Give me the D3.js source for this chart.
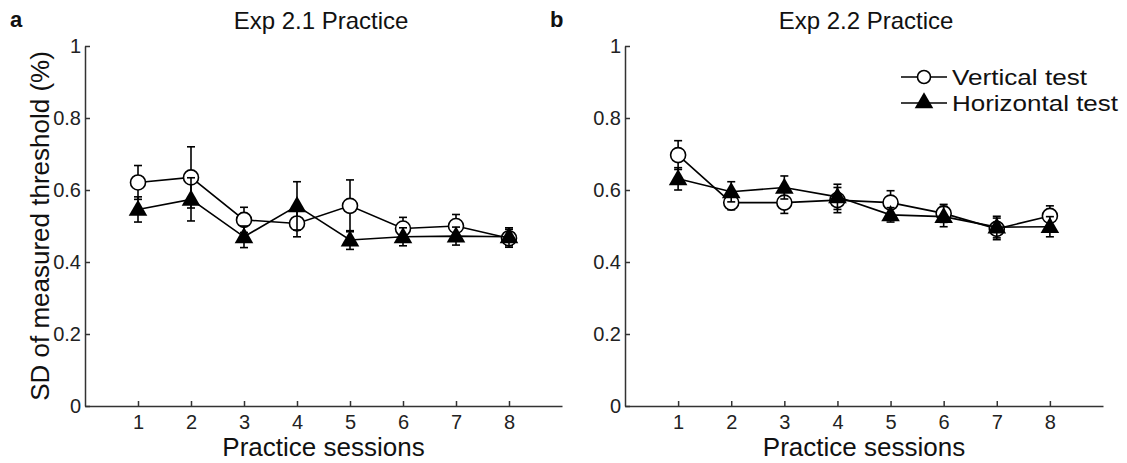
<!DOCTYPE html>
<html>
<head>
<meta charset="utf-8">
<script src="https://cdn.jsdelivr.net/npm/d3@7"></script>
<style>
  body { margin: 0; background: #fff; }
  svg { display: block; font-family: "Liberation Sans", Arial, sans-serif; }
</style>
</head>
<body>
<div id="chart"></div>
<script>
// data
const sessions = [1, 2, 3, 4, 5, 6, 7, 8];
const yTicks = [0, 0.2, 0.4, 0.6, 0.8, 1];

const exp21Vertical = [0.621, 0.635, 0.517, 0.507, 0.556, 0.493, 0.500, 0.466];
const exp21VerticalErr = [0.047, 0.085, 0.035, 0.037, 0.072, 0.031, 0.032, 0.025];
const exp21Horizontal = [0.546, 0.574, 0.470, 0.556, 0.461, 0.470, 0.472, 0.470];
const exp21HorizontalErr = [0.035, 0.060, 0.030, 0.067, 0.026, 0.025, 0.025, 0.025];

const exp22Vertical = [0.697, 0.565, 0.565, 0.572, 0.565, 0.535, 0.492, 0.528];
const exp22VerticalErr = [0.040, 0.020, 0.030, 0.035, 0.033, 0.025, 0.030, 0.028];
const exp22Horizontal = [0.631, 0.595, 0.607, 0.581, 0.531, 0.526, 0.497, 0.498];
const exp22HorizontalErr = [0.031, 0.028, 0.032, 0.035, 0.020, 0.028, 0.030, 0.028];

const legendNames = ["Vertical test", "Horizontal test"];

const W = 1127, H = 463;
const svg = d3.select("#chart").append("svg")
    .attr("width", W)
    .attr("height", H);

const axisColor = "#333";
const y0 = 406, y1 = 46;

const panels = [
    {letter: "a", title: "Exp 2.1 Practice", x0: 85, x1: 562, titleX: 321,
     vert: exp21Vertical, vertErr: exp21VerticalErr, hor: exp21Horizontal, horErr: exp21HorizontalErr, legend: false},
    {letter: "b", title: "Exp 2.2 Practice", x0: 625, x1: 1103, titleX: 866,
     vert: exp22Vertical, vertErr: exp22VerticalErr, hor: exp22Horizontal, horErr: exp22HorizontalErr, legend: true}
];

const tri = d3.symbol().type(d3.symbolTriangle).size(150);

function drawSeries(g, x, y, vals, errs, kind) {
    const data = sessions.map((s, i) => ({s: s, v: vals[i], e: errs[i]}));

    g.append("path")
        .datum(data)
        .attr("fill", "none")
        .attr("stroke", "#000")
        .attr("stroke-width", 1.6)
        .attr("d", d3.line().x(d => x(d.s)).y(d => y(d.v)));

    // error bars
    const eb = g.append("g").attr("stroke", "#000").attr("stroke-width", 1.6);
    eb.selectAll(".stem").data(data).enter().append("line")
        .attr("x1", d => x(d.s)).attr("x2", d => x(d.s))
        .attr("y1", d => y(d.v - d.e)).attr("y2", d => y(d.v + d.e));
    eb.selectAll(".capTop").data(data).enter().append("line")
        .attr("x1", d => x(d.s) - 4).attr("x2", d => x(d.s) + 4)
        .attr("y1", d => y(d.v + d.e)).attr("y2", d => y(d.v + d.e));
    eb.selectAll(".capBot").data(data).enter().append("line")
        .attr("x1", d => x(d.s) - 4).attr("x2", d => x(d.s) + 4)
        .attr("y1", d => y(d.v - d.e)).attr("y2", d => y(d.v - d.e));

    if (kind === "circle") {
        g.selectAll(".mk-c").data(data).enter().append("circle")
            .attr("cx", d => x(d.s)).attr("cy", d => y(d.v))
            .attr("r", 7.5)
            .attr("fill", "#fff")
            .attr("stroke", "#000")
            .attr("stroke-width", 1.6);
    } else {
        g.selectAll(".mk-t").data(data).enter().append("path")
            .attr("d", tri)
            .attr("transform", d => `translate(${x(d.s)},${y(d.v) + 1})`)
            .attr("fill", "#000");
    }
}

panels.forEach(p => {
    const x = d3.scaleLinear().domain([0, 9]).range([p.x0, p.x1]);
    const y = d3.scaleLinear().domain([0, 1]).range([y0, y1]);
    const g = svg.append("g");

    // axes
    const xAxis = g.append("g")
        .attr("transform", `translate(0,${y0})`)
        .call(d3.axisBottom(x).tickValues(sessions).tickSizeInner(-5).tickSizeOuter(0).tickPadding(9));
    const yAxis = g.append("g")
        .attr("transform", `translate(${p.x0},0)`)
        .call(d3.axisLeft(y).tickValues(yTicks).tickSizeInner(-5).tickSizeOuter(0).tickPadding(4)
            .tickFormat(d => d3.format("~g")(d)));

    [xAxis, yAxis].forEach(a => {
        a.selectAll("path, line").attr("stroke", axisColor).attr("stroke-width", 1.5);
        a.selectAll("text").attr("fill", "#222").style("font-size", "20px");
    });

    // title + panel letter
    g.append("text")
        .attr("x", p.titleX)
        .attr("y", 29)
        .attr("text-anchor", "middle")
        .style("font-size", "24px")
        .attr("fill", "#111")
        .text(p.title);
    g.append("text")
        .attr("x", p.x0 - 75)
        .attr("y", 27)
        .style("font-size", "22px")
        .style("font-weight", "bold")
        .attr("fill", "#111")
        .text(p.letter);

    g.append("text")
        .attr("x", (p.x0 + p.x1) / 2)
        .attr("y", 456)
        .attr("text-anchor", "middle")
        .style("font-size", "26px")
        .attr("fill", "#111")
        .text("Practice sessions");

    drawSeries(g, x, y, p.vert, p.vertErr, "circle");
    drawSeries(g, x, y, p.hor, p.horErr, "triangle");

    if (p.legend) {
        const lg = g.append("g").attr("transform", "translate(901,77)");
        const kinds = ["circle", "triangle"];
        const widths = [135, 166];
        legendNames.forEach((name, i) => {
            const row = lg.append("g").attr("transform", `translate(0,${i * 26})`);
            row.append("line").attr("x1", 0).attr("x2", 46).attr("y1", 0).attr("y2", 0)
                .attr("stroke", "#000").attr("stroke-width", 1.6);
            if (kinds[i] === "circle") {
                row.append("circle").attr("cx", 23).attr("cy", 0).attr("r", 6.5)
                    .attr("fill", "#fff").attr("stroke", "#000").attr("stroke-width", 1.6);
            } else {
                row.append("path").attr("d", tri).attr("transform", "translate(23,0)").attr("fill", "#000");
            }
            row.append("text").attr("x", 51).attr("y", 8)
                .style("font-size", "22px").attr("fill", "#111")
                .attr("textLength", widths[i])
                .attr("lengthAdjust", "spacingAndGlyphs")
                .text(name);
        });
    }
});

// shared y label
svg.append("text")
    .attr("transform", `translate(49,${(y0 + y1) / 2}) rotate(-90)`)
    .attr("text-anchor", "middle")
    .style("font-size", "26px")
    .attr("fill", "#111")
    .text("SD of measured threshold (%)");
</script>
</body>
</html>
